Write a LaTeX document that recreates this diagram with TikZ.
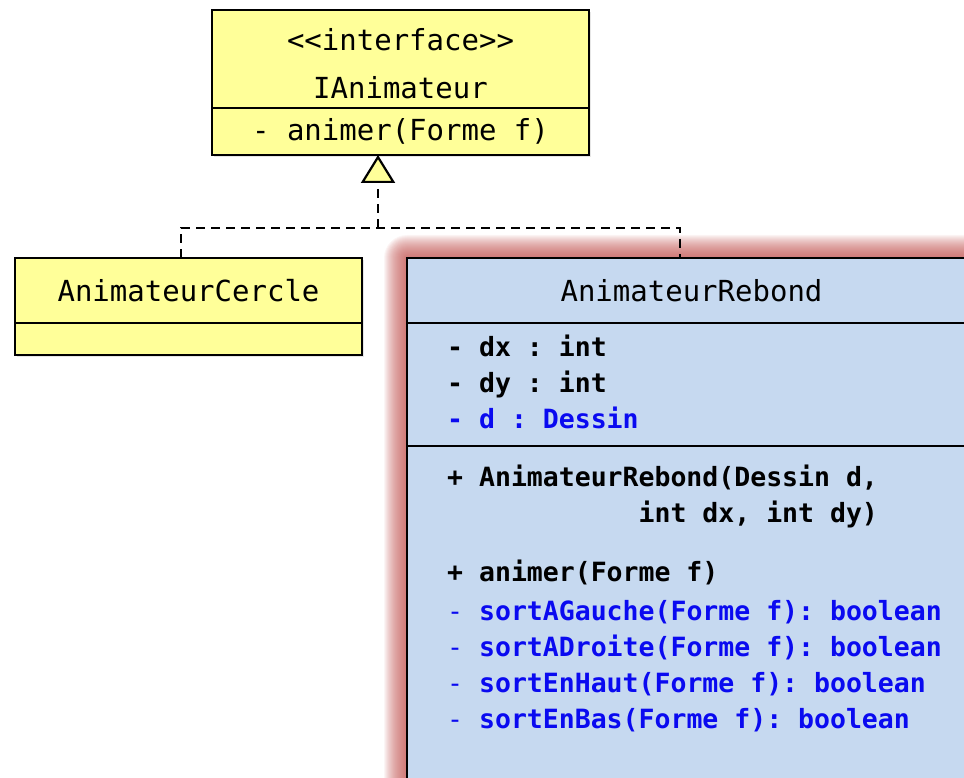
\documentclass[tikz,border=0pt]{standalone}
\usepackage{fontspec}
\setmonofont{DejaVu Sans Mono}
\usetikzlibrary{arrows.meta,positioning,calc,shadows,backgrounds}
\definecolor{umlyellow}{HTML}{FFFF99}
\definecolor{umlblue}{HTML}{C6D9F0}
\definecolor{privblue}{HTML}{0A0AF0}
\definecolor{glowred}{HTML}{C0504D}
\newcommand{\privop}[1]{\textcolor{privblue}{\mdseries-\ \bfseries #1}}

\begin{document}
\begin{tikzpicture}[
  x=1pt, y=-1pt,
  font=\ttfamily\fontsize{29}{36}\selectfont,
  ybox/.style={draw=black, line width=2pt, fill=umlyellow, inner sep=0pt, outer sep=0pt,
               drop shadow={opacity=0.2, shadow xshift=2pt, shadow yshift=-2pt}},
  rbox/.style={draw=black, line width=2pt, fill=umlblue, inner sep=0pt, outer sep=0pt,
               minimum width=569pt},
  member/.style={font=\ttfamily\bfseries\fontsize{26.5}{36}\selectfont, align=left,
                 anchor=north west, inner sep=0pt},
  realize/.style={line width=2.2pt, dash pattern=on 9pt off 6pt},
]
\useasboundingbox (0,0) rectangle (964,778);

% interface
\node[ybox, minimum width=377pt, minimum height=98pt, anchor=north west, align=center]
  (ianimTitle) at (212,10) {\rule{0pt}{32pt}<<interface>>\\[12pt]IAnimateur};
\node[ybox, minimum width=377pt, minimum height=47pt, below=0pt of ianimTitle]
  (ianimOps) {- animer(Forme f)};

% AnimateurCercle
\node[ybox, minimum width=347pt, minimum height=65pt, anchor=north west]
  (cercleTitle) at (15,258) {AnimateurCercle};
\node[ybox, minimum width=347pt, minimum height=32pt, below=0pt of cercleTitle]
  (cercleAttrs) {};

% AnimateurRebond
\node[rbox, minimum height=65pt, anchor=north west] (rebondTitle) at (407,258) {AnimateurRebond};
\node[rbox, minimum height=123pt, below=0pt of rebondTitle] (rebondAttrs) {};
\node[rbox, minimum height=380pt, below=0pt of rebondAttrs] (rebondOps) {};

\node[member] (rebondAttrText) at ($(rebondAttrs.north west)+(40,12)$)
  {- dx : int\\- dy : int\\\textcolor{privblue}{- d : Dessin}};
\node[member] (rebondOpsText) at ($(rebondOps.north west)+(40,19)$)
  {+ AnimateurRebond(Dessin d,\\\phantom{+ AnimateurR}int dx, int dy)\\[23pt]
   + animer(Forme f)\\[3pt]
   \privop{sortAGauche(Forme f): boolean}\\
   \privop{sortADroite(Forme f): boolean}\\
   \privop{sortEnHaut(Forme f): boolean}\\
   \privop{sortEnBas(Forme f): boolean}};

\begin{scope}[on background layer]
  \foreach \g in {1,2,...,23}
    \fill[glowred, opacity=0.06, rounded corners=\g pt]
      ($(rebondTitle.north west)+(-\g,-\g)$) rectangle (1020,830);
\end{scope}

% realization
\coordinate (split) at (378,228);
\draw[realize] ([xshift=166pt]cercleTitle.north west) |- (split)
  -| ([xshift=273pt]rebondTitle.north west);
\draw[realize, -{Triangle[length=28pt, width=34pt, fill=umlyellow]}]
  (split) -- ([xshift=166pt]ianimOps.south west);
\end{tikzpicture}
\end{document}
